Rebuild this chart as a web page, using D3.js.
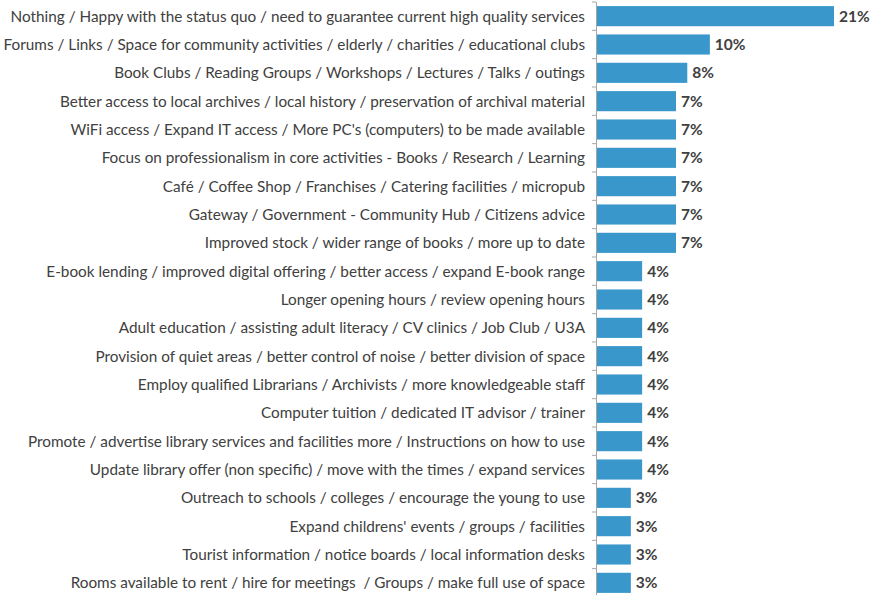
<!DOCTYPE html>
<html>
<head>
<meta charset="utf-8">
<script src="https://cdn.jsdelivr.net/npm/d3@7"></script>
<style>
  body { margin: 0; background: #fff; }
  #chart { width: 871px; height: 595px; }
</style>
</head>
<body>
<div id="chart"></div>
<script>
////////////// DATA //////////////

const categories = [
    "Nothing / Happy with the status quo / need to guarantee current high quality services",
    "Forums / Links / Space for community activities / elderly / charities / educational clubs",
    "Book Clubs / Reading Groups / Workshops / Lectures / Talks / outings",
    "Better access to local archives / local history / preservation of archival material",
    "WiFi access / Expand IT access / More PC's (computers) to be made available",
    "Focus on professionalism in core activities - Books / Research / Learning",
    "Café / Coffee Shop / Franchises / Catering facilities / micropub",
    "Gateway / Government - Community Hub / Citizens advice",
    "Improved stock / wider range of books / more up to date",
    "E-book lending / improved digital offering / better access / expand E-book range",
    "Longer opening hours / review opening hours",
    "Adult education / assisting adult literacy / CV clinics / Job Club / U3A",
    "Provision of quiet areas / better control of noise / better division of space",
    "Employ qualified Librarians / Archivists / more knowledgeable staff",
    "Computer tuition / dedicated IT advisor / trainer",
    "Promote / advertise library services and facilities more / Instructions on how to use",
    "Update library offer (non specific) / move with the times / expand services",
    "Outreach to schools / colleges / encourage the young to use",
    "Expand childrens' events / groups / facilities",
    "Tourist information / notice boards / local information desks",
    "Rooms available to rent / hire for meetings  / Groups / make full use of space"
];

const values = [21, 10, 8, 7, 7, 7, 7, 7, 7, 4, 4, 4, 4, 4, 4, 4, 4, 3, 3, 3, 3];

////////////// CHART //////////////

function drawBarChart() {
    const width = 871;
    const height = 595;
    const axisX = 596;

    const svg = d3.select("#chart").append("svg")
        .attr("width", width)
        .attr("height", height);

    const x = d3.scaleLinear()
        .domain([0, 21])
        .range([axisX, axisX + 237]);

    const y = d3.scaleBand()
        .domain(categories)
        .range([2, 597])
        .paddingInner(0.29)
        .paddingOuter(0.145);

    const rows = categories.map((c, i) => ({ name: c, value: values[i] }));

    svg.append("g")
        .selectAll("rect")
        .data(rows)
        .enter()
        .append("rect")
        .attr("x", x(0) + 1)
        .attr("y", d => y(d.name))
        .attr("width", d => x(d.value) - x(0))
        .attr("height", y.bandwidth())
        .attr("fill", "#3a97cb");

    // axis line with small ticks at band boundaries
    const axis = svg.append("g");
    axis.append("line")
        .attr("x1", axisX + 0.5).attr("x2", axisX + 0.5)
        .attr("y1", 2).attr("y2", 597)
        .style("stroke", "#a6a6a6");

    const step = y.step();
    axis.selectAll("line.tick")
        .data(d3.range(categories.length + 1))
        .enter()
        .append("line")
        .attr("class", "tick")
        .attr("x1", axisX - 4).attr("x2", axisX)
        .attr("y1", i => 2 + i * step)
        .attr("y2", i => 2 + i * step)
        .style("stroke", "#a6a6a6");

    svg.append("g")
        .selectAll("text")
        .data(rows)
        .enter()
        .append("text")
        .attr("x", axisX - 11)
        .attr("y", d => y(d.name) + y.bandwidth() / 2)
        .attr("dy", ".35em")
        .style("text-anchor", "end")
        .style("white-space", "pre")
        .style("font-family", "Lato, sans-serif")
        .style("font-size", "15.3px")
        .style("fill", "#404040")
        .text(d => d.name);

    svg.append("g")
        .selectAll("text")
        .data(rows)
        .enter()
        .append("text")
        .attr("x", d => x(d.value) + 6)
        .attr("y", d => y(d.name) + y.bandwidth() / 2)
        .attr("dy", ".35em")
        .style("font-family", "Lato, sans-serif")
        .style("font-size", "15.5px")
        .style("font-weight", "bold")
        .style("fill", "#404040")
        .text(d => d.value + "%");
}

drawBarChart();
</script>
</body>
</html>
